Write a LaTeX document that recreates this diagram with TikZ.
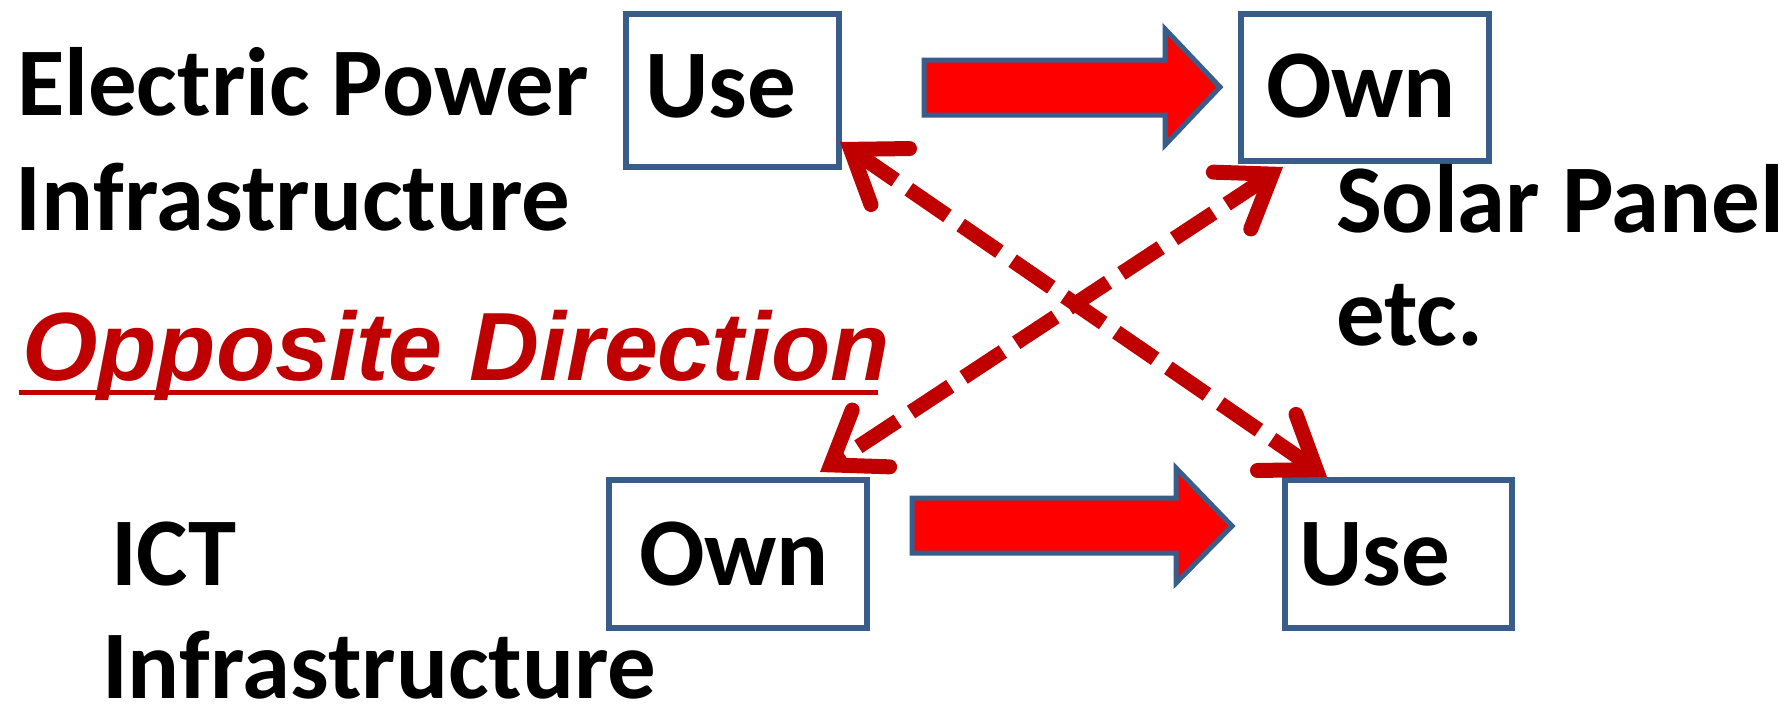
\documentclass[tikz,border=0pt]{standalone}
\usepackage{fontspec}
\setmainfont{Carlito}
\newfontfamily\arialfont{Liberation Sans}
\usetikzlibrary{arrows.meta,calc}
\definecolor{boxblue}{HTML}{385D8A}
\definecolor{darkred}{HTML}{C00000}
\definecolor{brightred}{HTML}{FF0000}

\begin{document}
\begin{tikzpicture}[x=1pt,y=-1pt,
  every node/.style={inner sep=0pt, outer sep=0pt},
  box/.style={draw=boxblue, line width=5.5pt, fill=white},
  lbl/.style={anchor=base west, font=\fontsize{97}{116}\selectfont\bfseries},
  redlbl/.style={anchor=base west, text=darkred,
    font=\arialfont\fontsize{97}{116}\selectfont\bfseries\itshape},
  blockarrow/.style={draw=boxblue, line width=5pt, fill=brightred, line join=miter},
  dasharrow/.style={draw=darkred, line width=15pt, dash pattern=on 47pt off 16pt,
    >={Straight Barb[length=48pt,width=68pt,line cap=round,line join=miter]}, <->}
]
\fill[white] (0,0) rectangle (1785,707);
\useasboundingbox (0,0) rectangle (1785,707);

% boxes
\node[box, minimum width=213pt, minimum height=153pt] (useTop) at (732.5,90.5) {};
\node[box, minimum width=248pt, minimum height=147pt] (ownTop) at (1365,87.5) {};
\node[box, minimum width=258pt, minimum height=148pt] (ownBot) at (738,554) {};
\node[box, minimum width=227pt, minimum height=148pt] (useBot) at (1398.5,554) {};

% box texts
\node[lbl] (useTopTxt) at (645,117) {Use};
\node[lbl] (ownTopTxt) at (1266,117) {Own};
\node[lbl] (ownBotTxt) at (639,585) {Own};
\node[lbl] (useBotTxt) at (1299,585) {Use};

% side texts
\node[lbl] (elec) at (17,115) {Electric Power};
\node[lbl] (infraTop) at (16,230) {Infrastructure};
\node[lbl] (solar) at (1336,232) {Solar Panel};
\node[lbl] (etc) at (1336,345) {etc.};
\node[lbl] (ict) at (111,585) {ICT};
\node[lbl, text depth=0pt] (infraBot) at (102,698) {Infrastructure};
\node[redlbl] (opp) at (22,380) {Opposite Direction};
\draw[darkred, line width=5pt] (19,392) -- (878,392);

% block arrows
\draw[blockarrow] (924,60) -- (1165,60) -- (1165,29) -- (1220,87)
  -- (1165,145) -- (1165,115) -- (924,115) -- cycle;
\draw[blockarrow] (912,498) -- (1176,498) -- (1176,468) -- (1232,526)
  -- (1176,583) -- (1176,553) -- (912,553) -- cycle;

% crossing dashed connectors
\draw[dasharrow] ([xshift=1pt,yshift=-51.5pt]useTop.east)
  -- ([xshift=-71.5pt,yshift=3pt]useBot.north);
\draw[dasharrow] ([xshift=-82pt,yshift=-6pt]ownTop.south)
  -- ([xshift=82pt,yshift=8pt]ownBot.north);
\end{tikzpicture}
\end{document}
